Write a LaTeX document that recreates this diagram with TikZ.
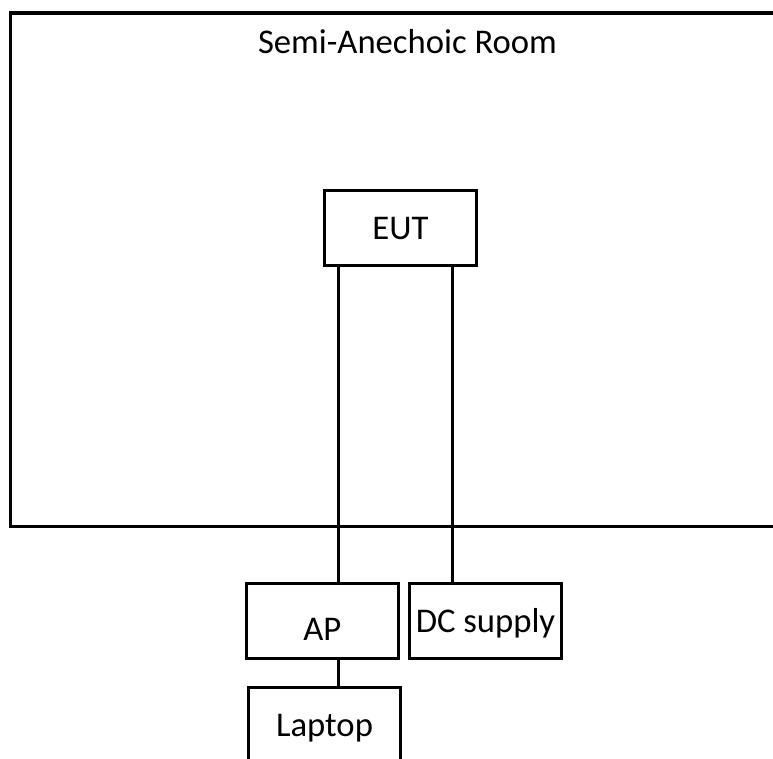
\documentclass[tikz,border=0pt]{standalone}
\usepackage{fontspec}
\setmainfont{Carlito}
\begin{document}
\begin{tikzpicture}[x=0.75pt,y=-0.75pt,line width=2.4pt,color=black,
    boxnode/.style={draw,minimum width=114pt,minimum height=56.25pt,inner sep=0pt,
        text height=16.7pt,text depth=0pt,font=\fontsize{26}{31}\selectfont}]
    \useasboundingbox (0,0) rectangle (773,758);
    % the room
    \node[draw,minimum width=592.1pt,minimum height=385.1pt,inner sep=0pt] (room) at (405.25,269.75){};
    \node[anchor=base,inner sep=0pt,font=\fontsize{26}{31}\selectfont] (title) at (407.5,53){Semi-Anechoic Room};
    % equipment
    \node[boxnode] (EUT) at (400.5,228){EUT};
    \node[boxnode,text height=28.7pt] (AP) at (322.25,621){AP};
    \node[boxnode] (DC) at (485.5,621){DC supply};
    \node[boxnode] (Laptop) at (324.5,725){Laptop};
    % cables
    \draw ([xshift=-46.5pt]EUT.south) -- ([xshift=-46.5pt]EUT.south |- AP.north);
    \draw ([xshift=39pt]EUT.south) -- ([xshift=39pt]EUT.south |- DC.north);
    \draw ([xshift=12.2pt]AP.south) -- ([xshift=12.2pt]AP.south |- Laptop.north);
\end{tikzpicture}
\end{document}
